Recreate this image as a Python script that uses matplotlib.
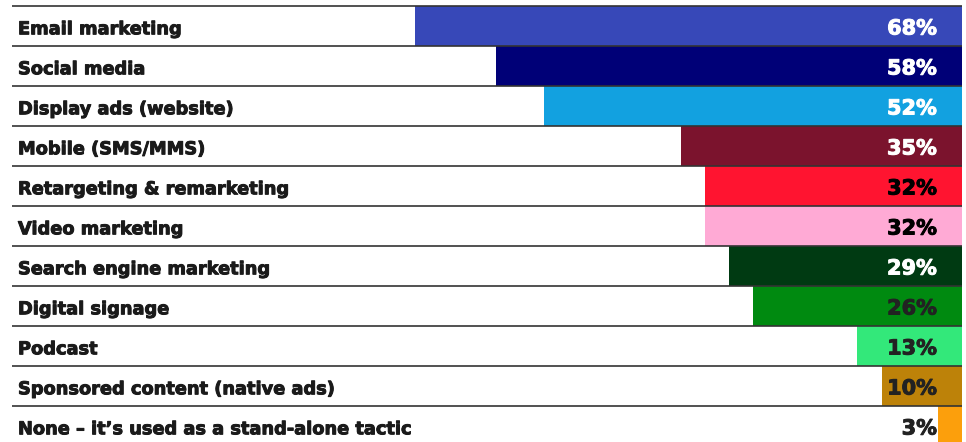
import matplotlib.pyplot as plt
import matplotlib.patheffects as pe

# marketing channels, top to bottom
labels = ["Email marketing", "Social media", "Display ads (website)",
          "Mobile (SMS/MMS)", "Retargeting & remarketing", "Video marketing",
          "Search engine marketing", "Digital signage", "Podcast",
          "Sponsored content (native ads)",
          "None \u2013 it\u2019s used as a stand-alone tactic"]
values = [68, 58, 52, 35, 32, 32, 29, 26, 13, 10, 3]
colors = ["#3748b8", "#000077", "#12a1e0", "#7b132d", "#ff1430", "#ffaad5",
          "#003a12", "#008a10", "#33e87a", "#bd8209", "#fc9f0c"]
text_colors = ["white", "white", "white", "white", "black", "black",
               "white", "#222222", "#222222", "#222222", "#222222"]

W, H = 966, 442
fig = plt.figure(figsize=(W / 100, H / 100), dpi=100)
ax = fig.add_axes([0, 0, 1, 1])

# pixel mapping: 0% at x=962, ~8.04 px per percent; rows 40 px, first at y=6.5
px_per = 8.04
x_right = 962
ax.set_xlim(x_right / px_per, -(W - x_right) / px_per)
top = -0.5 - 6.5 / 40
ax.set_ylim(top + H / 40, top)
ax.axis("off")

rows = list(range(len(labels)))
ax.barh(rows, values, height=1.0, color=colors, zorder=1)

x_line_start = (x_right - 12) / px_per
for r in rows:
    ax.plot([x_line_start, 0], [r - 0.5, r - 0.5], color="#333333", lw=1.2,
            zorder=2, solid_capstyle="butt")

font = ["DejaVu Sans"]
for r, lab, v, tc in zip(rows, labels, values, text_colors):
    ax.text((x_right - 18) / px_per, r + 0.07, lab, ha="left", va="center",
            fontsize=12.8, fontweight="bold", family=font, color="#1a1a1a",
            zorder=3,
            path_effects=[pe.withStroke(linewidth=0.7, foreground="#1a1a1a")])
    ax.text(25 / px_per, r + 0.05, f"{v}%", ha="right", va="center",
            fontsize=15, fontweight="bold", family=font, color=tc,
            zorder=3, path_effects=[pe.withStroke(linewidth=0.7, foreground=tc)])

fig.savefig("out.png", dpi=100)
